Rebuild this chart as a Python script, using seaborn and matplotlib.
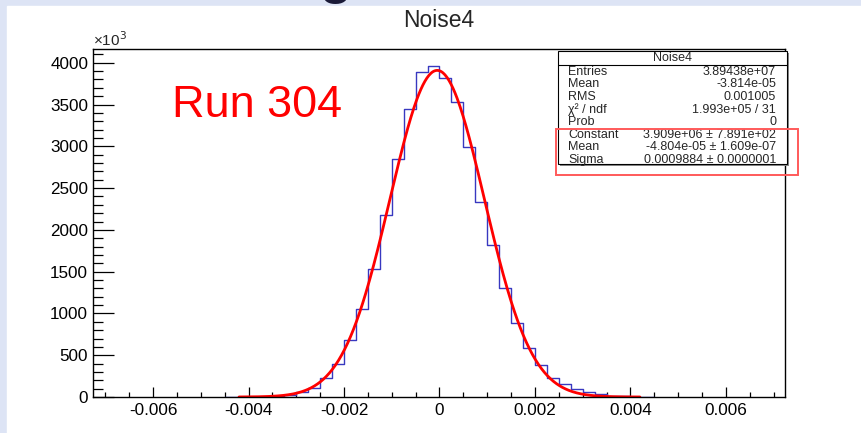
import numpy as np
import pandas as pd
import matplotlib
matplotlib.use("Agg")
import matplotlib.pyplot as plt
import seaborn as sns
from matplotlib.patches import Rectangle
from matplotlib.ticker import MultipleLocator, FuncFormatter

# ---------------- data ----------------
hist_low = -0.0045
bin_width = 0.00025
counts_k = [0.5, 0.8, 1.5, 3, 8, 28, 58, 110, 226, 399, 678, 1050, 1534, 2183,
            2851, 3443, 3888, 3967, 3816, 3527, 2991, 2336, 1822, 1306, 882,
            592, 381, 232, 152, 100, 56, 32, 16, 6, 2, 1]
fit_constant_k = 3909.0
fit_mean = -4.804e-05
fit_sigma = 0.0009884
fit_range = (-0.0042, 0.0042)

hist_title = "Noise4"
run_label = "Run 304"
stat_labels = ["Entries", "Mean", "RMS", "\u03c7\u00b2 / ndf", "Prob",
               "Constant", "Mean", "Sigma"]
stat_values = ["3.89438e+07", "-3.814e-05", "0.001005", "1.993e+05 / 31", "0",
               "3.909e+06 \u00b1 7.891e+02", "-4.804e-05 \u00b1 1.609e-07",
               "0.0009884 \u00b1 0.0000001"]

# ---------------- style ----------------
sns.set_style("ticks")
plt.rcParams['font.family'] = ['Liberation Sans', 'DejaVu Sans']

W, H = 861, 433
fig = plt.figure(figsize=(W / 100, H / 100), dpi=100)

# background (slide + white canvas)
bg = fig.add_axes([0, 0, 1, 1], zorder=-5)
bg.set_xlim(0, W)
bg.set_ylim(H, 0)
bg.axis("off")
bg.add_patch(Rectangle((0, 0), W, H, color="#dde4f5", zorder=0))
bg.text(336, -7, "g", fontsize=38, fontweight="bold", color="#1a1a38",
        ha="center", va="baseline", zorder=1)
bg.add_patch(Rectangle((7, 6), W - 7, H - 6, color="white", zorder=3))

# main axes
L, R, T, B = 93, 785, 49, 397
ax = fig.add_axes([L / W, 1 - B / H, (R - L) / W, (B - T) / H])
ax.set_facecolor("white")

edges = [hist_low + i * bin_width for i in range(len(counts_k) + 1)]
centers = [0.5 * (edges[i] + edges[i + 1]) for i in range(len(counts_k))]
df = pd.DataFrame({"x": centers, "w": counts_k})
sns.histplot(data=df, x="x", weights="w", bins=edges, element="step",
             fill=False, color="#3838c0", linewidth=1.0, ax=ax)

xf = np.linspace(fit_range[0], fit_range[1], 400)
yf = fit_constant_k * np.exp(-0.5 * ((xf - fit_mean) / fit_sigma) ** 2)
sns.lineplot(x=xf, y=yf, color="#ff0000", linewidth=2.0, ax=ax)

ax.set_xlim(-0.00726, 0.00724)
ax.set_ylim(0, 4165)
ax.set_xlabel("")
ax.set_ylabel("")

ax.xaxis.set_major_locator(MultipleLocator(0.002))
ax.xaxis.set_minor_locator(MultipleLocator(0.0005))
ax.yaxis.set_major_locator(MultipleLocator(500))
ax.yaxis.set_minor_locator(MultipleLocator(100))
ax.xaxis.set_major_formatter(FuncFormatter(lambda v, p: "0" if abs(v) < 1e-12 else f"{v:.3f}"))
ax.yaxis.set_major_formatter(FuncFormatter(lambda v, p: f"{int(round(v))}"))

ax.tick_params(axis="both", which="both", direction="in", top=False,
               right=False, colors="black", labelsize=12.3, width=0.9)
ax.xaxis.set_tick_params(which="major", length=7.2, pad=4)
ax.xaxis.set_tick_params(which="minor", length=3.6)
ax.yaxis.set_tick_params(which="major", length=15, pad=3.5)
ax.yaxis.set_tick_params(which="minor", length=7.5)
for s in ax.spines.values():
    s.set_color("black")
    s.set_linewidth(1.0)
    s.set_visible(True)

# overlay for texts and stats box
ov = fig.add_axes([0, 0, 1, 1], zorder=5)
ov.set_xlim(0, W)
ov.set_ylim(H, 0)
ov.axis("off")
ov.patch.set_alpha(0)

ov.text(439, 27.3, hist_title, fontsize=16.5, ha="center", va="baseline")
ov.text(93, 46.5, "\u00d710$^{3}$", fontsize=11, ha="left", va="baseline")
ov.text(172, 117, run_label, fontsize=32.4, color="#ff0000", ha="left",
        va="baseline")

bx0, by0, bx1, by1 = 558, 51, 787, 164
ov.add_patch(Rectangle((bx0 + 2, by0 + 2), bx1 - bx0, by1 - by0,
                       facecolor="#888888", edgecolor="none", zorder=1))
ov.add_patch(Rectangle((bx0, by0), bx1 - bx0, by1 - by0, facecolor="white",
                       edgecolor="black", linewidth=0.8, zorder=2))
ov.plot([bx0, bx1], [64.5, 64.5], color="black", linewidth=0.8, zorder=3)
ov.text((bx0 + bx1) / 2, 58.3, hist_title, fontsize=9.0, ha="center",
        va="center", zorder=4)
row_y0, row_dy = 71.8, 12.6
for i, (lab, val) in enumerate(zip(stat_labels, stat_values)):
    y = row_y0 + i * row_dy
    ov.text(568, y, lab, fontsize=9.0, ha="left", va="center", zorder=4)
    ov.text(776, y, val, fontsize=9.0, ha="right", va="center", zorder=4)

ov.add_patch(Rectangle((556, 128.5), 798 - 556, 174.5 - 128.5,
                       facecolor="none", edgecolor="#ff5a5a", linewidth=1.4,
                       zorder=6))

fig.savefig("out.png", dpi=100)
